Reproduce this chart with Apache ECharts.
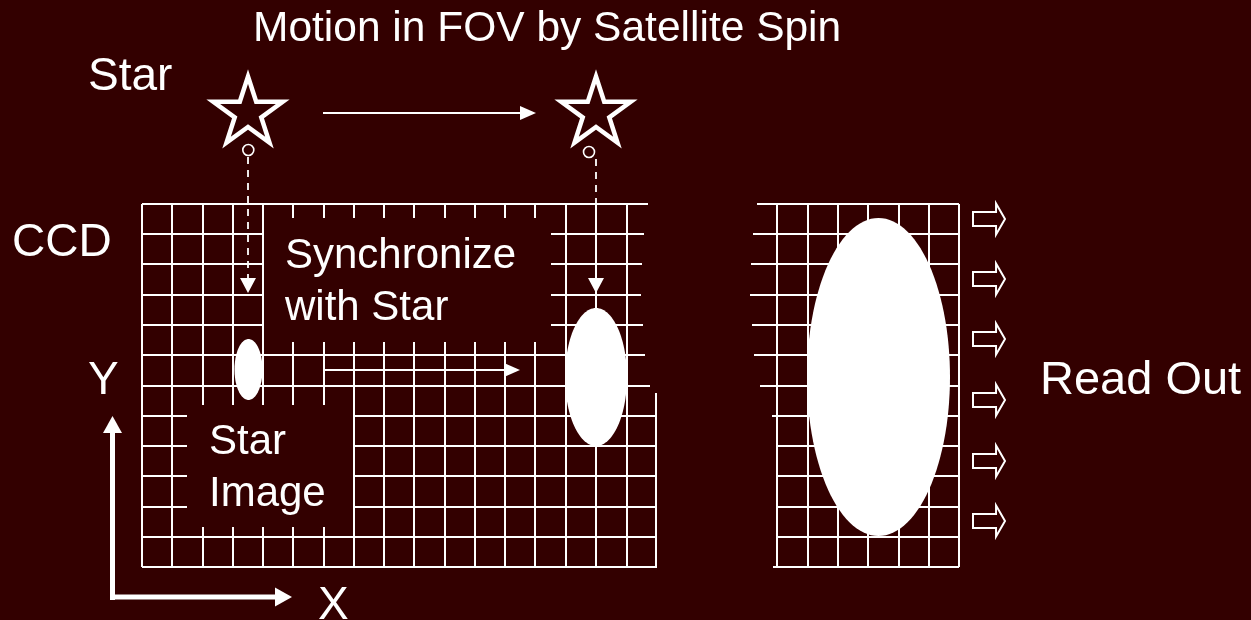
<!DOCTYPE html>
<html><head><meta charset="utf-8">
<script src="https://cdn.jsdelivr.net/npm/echarts@6/dist/echarts.min.js"></script>
<style>html,body{margin:0;padding:0;background:#330000;overflow:hidden}#c{width:1251px;height:620px}</style>
</head><body><div id="c"></div>
<script>
const BG = '#330000';
const FG = '#ffffff';
// CCD grid that moves with the star (left)
const ccdColX = [142,172,203,233,263,293,324,354,384,414,445,475,505,535,566,596,627];
const ccdRowY = [204,234,264,295,325,355,386,416,446,476,507,537,567];
const ccdRowEndX = [648,644,642,641,643,645,650,657,657,657,657,657,657];
const ccdExtraSeg = [[656,393,656,567]];
// read-out CCD grid (right)
const roColX = [777,808,838,868,899,929,959];
const roRowStartX = [757,753,751,750,752,754,760,772,776,777,777,776,773];
// areas masked by the text labels
const maskBoxes = [[264,218,551,342],[187,405,353,527]];
// star images [cx, cy, rx, ry]
const starImages = [[248.5,369.5,14,30.5],[596,377,31,69],[878.5,377,71.5,159]];
// stars and their projection points
const stars = [[248,113],[596,113]];
const starDots = [[248.3,150],[589,152]];
// arrows [x1, y1, xTip, yTip]
const dashArrows = [[248,157,248,293],[596,159,596,293]];
const thinArrows = [[323,113,536,113],[323,370,520,370]];
const axisArrows = [[112.5,600,112.5,416],[110,597,292,597]];
// read-out arrows
const readOutY = [219,279,339,400,461,521];
const readOutX = [973,1005];

const labels = [
  ['Motion in FOV by Satellite Spin', 253, 29, 42.5],
  ['Star', 88, 77, 46],
  ['CCD', 12, 243, 46],
  ['Synchronize', 285, 256, 42],
  ['with Star', 285, 308, 42],
  ['Star', 209, 442, 42],
  ['Image', 209, 494, 42],
  ['Y', 88, 381, 46],
  ['X', 318, 606, 46],
  ['Read Out', 1040, 381, 47]
];

// build grid segments from the arrays
const gridSegs = [];
ccdColX.forEach(x => gridSegs.push([x, ccdRowY[0], x, ccdRowY[ccdRowY.length-1]]));
ccdRowY.forEach((y, j) => gridSegs.push([ccdColX[0], y, ccdRowEndX[j], y]));
ccdExtraSeg.forEach(s => gridSegs.push(s));
roColX.forEach(x => gridSegs.push([x, ccdRowY[0], x, ccdRowY[ccdRowY.length-1]]));
ccdRowY.forEach((y, j) => gridSegs.push([roRowStartX[j], y, roColX[roColX.length-1], y]));
const readOutData = readOutY.map(y => [readOutX[0], readOutX[1], y]);

function segItem(params, api) {
  const a = api.coord([api.value(0), api.value(1)]);
  const b = api.coord([api.value(2), api.value(3)]);
  return {type:'line', shape:{x1:a[0], y1:a[1], x2:b[0], y2:b[1]}, style:{stroke:FG, lineWidth:2}};
}
function maskItem(params, api) {
  const a = api.coord([api.value(0), api.value(1)]);
  const b = api.coord([api.value(2), api.value(3)]);
  return {type:'rect', shape:{x:a[0], y:a[1], width:b[0]-a[0], height:b[1]-a[1]}, style:{fill:BG}};
}
function ellipseItem(params, api) {
  const c = api.coord([api.value(0), api.value(1)]);
  const s = api.size([api.value(2), api.value(3)]);
  const pts = [];
  for (let i = 0; i < 120; i++) {
    const t = i / 120 * Math.PI * 2;
    pts.push([c[0] + s[0] * Math.cos(t), c[1] + s[1] * Math.sin(t)]);
  }
  return {type:'polygon', shape:{points:pts}, style:{fill:FG}};
}
function starItem(params, api) {
  const c = api.coord([api.value(0), api.value(1)]);
  const R = 36.5, r = R * 0.382, pts = [];
  for (let i = 0; i < 10; i++) {
    const ang = -Math.PI / 2 + i * Math.PI / 5;
    const rr = i % 2 ? r : R;
    pts.push([c[0] + rr * Math.cos(ang), c[1] + rr * Math.sin(ang)]);
  }
  return {type:'polygon', shape:{points:pts}, style:{fill:BG, stroke:FG, lineWidth:4.5, lineJoin:'miter', miterLimit:10}};
}
function dotItem(params, api) {
  const c = api.coord([api.value(0), api.value(1)]);
  return {type:'circle', shape:{cx:c[0], cy:c[1], r:5.5}, style:{fill:BG, stroke:FG, lineWidth:1.6}};
}
function arrowItem(headLen, headHalf, lw, dash) {
  return function (params, api) {
    const a = api.coord([api.value(0), api.value(1)]);
    const b = api.coord([api.value(2), api.value(3)]);
    const dx = b[0] - a[0], dy = b[1] - a[1], L = Math.hypot(dx, dy), ux = dx / L, uy = dy / L;
    const bx = b[0] - ux * headLen, by = b[1] - uy * headLen;
    return {type:'group', children:[
      {type:'line', shape:{x1:a[0], y1:a[1], x2:bx + ux, y2:by + uy}, style:{stroke:FG, lineWidth:lw, lineDash:dash || null}},
      {type:'polygon', shape:{points:[[b[0], b[1]], [bx - uy * headHalf, by + ux * headHalf], [bx + uy * headHalf, by - ux * headHalf]]}, style:{fill:FG}}
    ]};
  };
}
function blockArrowItem(params, api) {
  const a = api.coord([api.value(0), api.value(2)]);
  const t = api.coord([api.value(1), api.value(2)]);
  const L = t[0] - a[0], neck = a[0] + L * 0.72, y = a[1];
  const pts = [[a[0], y - 7], [neck, y - 7], [neck, y - 15.5], [t[0], y], [neck, y + 15.5], [neck, y + 7], [a[0], y + 7]];
  return {type:'polygon', shape:{points:pts}, style:{fill:BG, stroke:FG, lineWidth:2, lineJoin:'miter'}};
}

const chart = echarts.init(document.getElementById('c'), null, {renderer:'canvas'});
const base = {type:'custom', coordinateSystem:'cartesian2d', clip:false, silent:true, animation:false};
chart.setOption({
  backgroundColor: BG,
  animation: false,
  grid: {left:0, right:0, top:0, bottom:0},
  xAxis: {type:'value', min:0, max:1251, show:false},
  yAxis: {type:'value', min:0, max:620, inverse:true, show:false},
  series: [
    Object.assign({}, base, {name:'grid', z:1, renderItem:segItem, data:gridSegs}),
    Object.assign({}, base, {name:'mask', z:2, renderItem:maskItem, data:maskBoxes}),
    Object.assign({}, base, {name:'starImages', z:3, renderItem:ellipseItem, data:starImages}),
    Object.assign({}, base, {name:'stars', z:4, renderItem:starItem, data:stars}),
    Object.assign({}, base, {name:'dots', z:5, renderItem:dotItem, data:starDots}),
    Object.assign({}, base, {name:'dashArrows', z:4, renderItem:arrowItem(15, 8, 1.8, [7, 6]), data:dashArrows}),
    Object.assign({}, base, {name:'thinArrows', z:4, renderItem:arrowItem(16, 7, 2, null), data:thinArrows}),
    Object.assign({}, base, {name:'axisArrows', z:4, renderItem:arrowItem(17, 9.5, 5, null), data:axisArrows}),
    Object.assign({}, base, {name:'readOut', z:4, renderItem:blockArrowItem, data:readOutData})
  ],
  graphic: labels.map(l => ({
    type:'text', x:l[1], y:l[2], z:100, silent:true,
    style:{text:l[0], fill:FG, font:l[3] + 'px "Liberation Sans", Arial, sans-serif', align:'left', verticalAlign:'middle'}
  }))
});
</script></body></html>
